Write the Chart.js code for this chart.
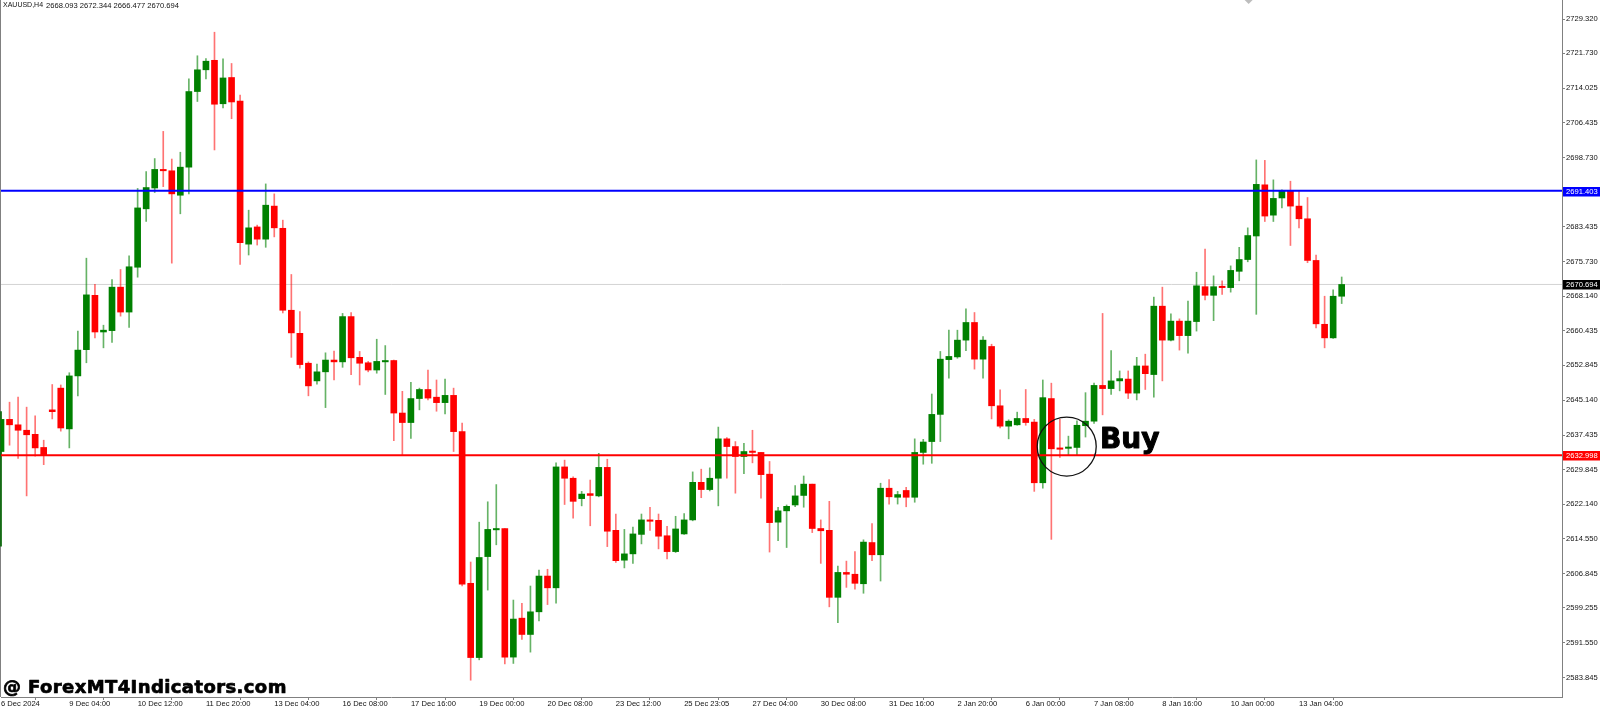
<!DOCTYPE html>
<html>
<head>
<meta charset="utf-8">
<style>html,body{margin:0;padding:0;background:#fff}canvas{display:block}</style>
<script src="https://cdn.jsdelivr.net/npm/chart.js@4"></script>
</head>
<body>
<canvas id="c" width="1600" height="710"></canvas>
<script>
const opens = [
2633.8,2640.9,2639.7,2638.5,2637.6,2634.7,2643.0,2647.8,2638.8,2650.5,
2656.3,2668.3,2660.2,2660.5,2670.1,2664.6,2674.5,2687.4,2692.0,2696.1,
2695.8,2690.4,2696.6,2713.3,2718.1,2720.2,2710.6,2716.4,2711.2,2679.6,
2683.4,2680.7,2688.0,2683.1,2665.0,2659.9,2653.3,2649.4,2651.4,2654.0,
2653.6,2663.6,2654.6,2653.4,2651.8,2653.6,2653.9,2642.3,2640.2,2645.5,
2647.5,2645.8,2644.6,2646.2,2638.2,2604.7,2588.3,2610.6,2616.5,2616.8,
2588.4,2597.0,2593.4,2598.4,2606.3,2603.7,2630.4,2627.9,2623.4,2624.5,
2624.0,2630.3,2616.4,2609.8,2611.2,2615.5,2618.7,2618.6,2615.2,2611.7,
2615.6,2618.7,2627.0,2625.4,2627.9,2636.6,2634.9,2632.7,2633.9,2633.6,
2628.8,2618.2,2620.7,2622.0,2624.1,2626.6,2616.8,2616.4,2601.6,2607.1,
2606.7,2604.6,2613.7,2611.0,2625.7,2623.7,2625.2,2623.7,2633.6,2636.0,
2642.0,2654.1,2654.7,2658.4,2662.3,2654.2,2657.0,2643.9,2639.4,2639.7,
2641.1,2640.3,2626.9,2645.5,2634.6,2634.5,2634.7,2639.5,2640.5,2648.4,
2647.7,2649.4,2649.8,2646.7,2652.7,2650.8,2665.9,2658.4,2662.6,2659.4,
2662.5,2670.2,2668.3,2670.3,2670.0,2673.6,2676.2,2681.4,2692.7,2686.0,
2689.8,2691.4,2688.0,2685.2,2676.0,2661.9,2658.9,2668.093];
const highs = [
2642.6,2644.7,2645.8,2643.6,2641.7,2636.3,2648.6,2648.5,2651.2,2660.4,
2676.5,2670.7,2661.7,2671.8,2674.0,2677.0,2691.9,2695.6,2698.5,2704.5,
2698.4,2699.9,2716.1,2721.2,2720.6,2726.4,2720.5,2719.5,2712.5,2687.1,
2683.8,2692.9,2690.7,2684.9,2672.9,2664.7,2653.6,2653.1,2655.6,2656.0,
2664.3,2664.5,2655.9,2653.7,2658.6,2657.2,2654.0,2647.1,2649.1,2647.8,
2651.8,2649.6,2649.8,2647.8,2640.1,2609.4,2618.2,2622.7,2626.5,2616.8,
2601.0,2600.3,2604.1,2607.6,2607.8,2631.3,2631.9,2628.2,2625.0,2627.5,
2633.4,2632.1,2620.0,2616.6,2617.1,2620.0,2621.5,2620.0,2617.3,2619.5,
2620.1,2629.3,2629.9,2630.2,2639.2,2636.9,2636.0,2635.6,2638.5,2633.6,
2631.6,2621.5,2622.0,2626.3,2628.4,2626.6,2618.7,2622.8,2608.5,2609.6,
2611.7,2614.3,2617.9,2626.8,2627.6,2625.0,2625.9,2636.6,2636.5,2646.5,
2655.9,2660.6,2660.6,2665.3,2664.5,2659.2,2657.5,2647.4,2640.8,2642.5,
2647.5,2640.9,2649.6,2648.9,2640.9,2637.2,2640.6,2646.8,2648.9,2664.3,
2656.1,2651.6,2651.6,2654.6,2655.3,2667.9,2670.1,2664.2,2663.1,2667.0,
2673.4,2678.5,2672.6,2671.5,2674.8,2678.9,2683.2,2698.2,2698.1,2693.8,
2691.6,2693.5,2691.4,2689.9,2677.2,2668.1,2669.5,2672.344];
const lows = [
2612.9,2635.2,2632.3,2624.0,2632.8,2630.9,2641.0,2638.3,2634.6,2646.1,
2653.4,2658.9,2656.7,2657.9,2663.7,2661.2,2672.3,2684.6,2691.0,2692.3,
2675.4,2686.3,2690.7,2711.1,2716.1,2700.4,2709.7,2707.3,2675.1,2677.2,
2679.4,2678.9,2681.2,2664.4,2654.6,2652.2,2646.1,2648.7,2643.5,2649.6,
2652.4,2650.8,2648.5,2651.4,2651.1,2646.4,2636.2,2633.0,2636.7,2643.0,
2645.2,2642.7,2642.1,2633.8,2604.1,2583.3,2587.8,2603.2,2613.2,2586.9,
2587.0,2592.3,2589.5,2596.4,2600.0,2600.3,2622.1,2619.1,2621.8,2617.4,
2623.8,2612.8,2609.3,2608.1,2609.1,2613.4,2616.4,2612.3,2610.1,2611.5,
2615.5,2618.5,2623.6,2625.1,2621.8,2627.9,2624.6,2628.9,2631.3,2623.5,
2611.6,2614.1,2612.6,2621.6,2621.5,2615.9,2609.1,2599.5,2596.0,2603.8,
2603.4,2602.5,2609.7,2605.2,2622.2,2622.2,2621.6,2622.6,2631.0,2631.2,
2636.0,2650.0,2654.4,2656.1,2652.0,2650.0,2641.0,2639.0,2636.6,2639.6,
2639.6,2625.0,2625.7,2614.4,2632.5,2632.9,2633.0,2637.0,2640.0,2641.9,
2646.4,2647.2,2645.5,2645.2,2647.5,2645.8,2649.4,2658.2,2656.2,2655.5,
2660.4,2667.3,2662.7,2668.5,2669.0,2671.5,2675.7,2664.1,2684.6,2684.6,
2687.6,2679.3,2683.2,2675.5,2661.1,2656.7,2658.8,2666.477];
const closes = [
2640.9,2639.7,2638.5,2637.5,2634.6,2632.9,2642.6,2639.0,2650.5,2656.2,
2668.4,2660.2,2660.6,2670.1,2664.6,2674.6,2687.6,2692.1,2696.1,2695.8,
2690.7,2696.6,2713.3,2718.1,2720.0,2710.5,2716.3,2711.0,2679.9,2683.2,
2680.7,2688.2,2683.2,2665.0,2660.0,2653.0,2648.3,2651.4,2654.0,2653.6,
2663.6,2654.5,2653.3,2651.8,2653.7,2653.9,2642.3,2640.2,2645.5,2647.5,
2645.6,2644.6,2646.2,2638.2,2604.5,2588.3,2610.4,2616.6,2616.8,2588.4,
2596.8,2593.4,2598.4,2606.3,2603.7,2630.4,2627.9,2622.8,2624.4,2624.1,
2630.3,2616.2,2609.7,2611.2,2615.6,2618.7,2618.4,2615.1,2611.7,2616.7,
2618.7,2627.0,2625.4,2627.9,2636.6,2634.9,2632.7,2633.8,2633.6,2628.7,
2618.1,2620.7,2621.7,2624.0,2626.6,2616.8,2616.3,2601.6,2607.1,2606.7,
2604.7,2613.8,2611.0,2625.7,2623.8,2624.3,2623.7,2633.6,2635.9,2642.0,
2654.2,2654.8,2658.4,2662.3,2654.2,2658.4,2643.9,2639.4,2640.5,2641.1,
2640.2,2626.9,2645.7,2634.4,2634.3,2634.8,2639.6,2640.5,2648.4,2647.7,
2649.4,2649.9,2646.7,2652.7,2651.0,2665.9,2658.4,2662.6,2659.4,2662.6,
2670.4,2668.3,2670.2,2670.0,2673.8,2676.2,2681.5,2692.8,2685.8,2689.7,
2691.4,2688.0,2685.2,2676.0,2662.0,2658.9,2668.1,2670.694];

const xTickIndex = [0,8,16,24,32,40,48,56,64,72,80,88,96,104,112,120,128,136,144,152];
const xTickLabels = ['6 Dec 2024','9 Dec 04:00','10 Dec 12:00','11 Dec 20:00','13 Dec 04:00','16 Dec 08:00','17 Dec 16:00','19 Dec 00:00','20 Dec 08:00','23 Dec 12:00','25 Dec 23:05','27 Dec 04:00','30 Dec 08:00','31 Dec 16:00','2 Jan 20:00','6 Jan 00:00','7 Jan 08:00','8 Jan 16:00','10 Jan 00:00','13 Jan 04:00'];
const yTickValues = [2729.320,2721.730,2714.025,2706.435,2698.730,2683.435,2675.730,2668.140,2660.435,2652.845,2645.140,2637.435,2629.845,2622.140,2614.550,2606.845,2599.255,2591.550,2583.845];
const resistance = 2691.403;
const support = 2632.998;
const bid = 2670.694;
const yMin = 2579.59, yMax = 2733.516, xMin = 0, xMax = 182.8;
const headerParts = ['XAUUSD,H4', '2668.093 2672.344 2666.477 2670.694'];
const watermark = '@ ForexMT4Indicators.com';
const buyText = 'Buy';
const AXIS_FONT = '"Liberation Sans"';
const TEXT_SIZE = 7.6;
const TEXT_COLOR = '#111';
const GREEN = '#008000', RED = '#ff0000';

const isUp = i => closes[i] >= opens[i];
const wicks = opens.map((_, i) => ({x: i, y: [lows[i], highs[i]]}));
const bodies = opens.map((_, i) => ({x: i, y: [opens[i], closes[i]]}));
const hLine = v => [{x: xMin, y: v}, {x: xMax, y: v}];

const overlay = {
  id: 'overlay',
  beforeDatasetsDraw(chart) {
    const {ctx, chartArea: a} = chart;
    ctx.save();
    ctx.fillStyle = '#808080';
    ctx.fillRect(0, 0, 1, a.bottom);
    ctx.restore();
  },
  afterDraw(chart) {
    const {ctx, scales: {x, y}, chartArea: a} = chart;
    ctx.save();
    // header
    ctx.fillStyle = TEXT_COLOR;
    ctx.font = '7px ' + AXIS_FONT;
    ctx.textAlign = 'left'; ctx.textBaseline = 'middle';
    ctx.fillText(headerParts[0], 3, 5.5);
    ctx.font = TEXT_SIZE + 'px ' + AXIS_FONT;
    ctx.fillText(headerParts[1], 46, 5.5);
    // small grey marker at the top edge
    const mx = x.getPixelForValue(146.1);
    ctx.fillStyle = '#bdbdbd';
    ctx.beginPath(); ctx.moveTo(mx - 4, 0); ctx.lineTo(mx + 4, 0); ctx.lineTo(mx, 4); ctx.closePath(); ctx.fill();
    // price tags
    [[resistance, '#0000ff', '#fff'], [support, '#ff0000', '#fff'], [bid, '#000', '#fff']].forEach(([v, bg, fg]) => {
      const py = Math.round(y.getPixelForValue(v));
      ctx.fillStyle = bg;
      ctx.fillRect(a.right + 1, py - 4, 37, 9.5);
      ctx.fillStyle = fg;
      ctx.font = TEXT_SIZE + 'px ' + AXIS_FONT;
      ctx.fillText(v.toFixed(3), a.right + 4, py + 1);
    });
    // circle around the entry candles
    ctx.strokeStyle = '#111'; ctx.lineWidth = 1.3;
    ctx.beginPath();
    ctx.arc(x.getPixelForValue(124.8), y.getPixelForValue(2634.9), 29.5, 0, Math.PI * 2);
    ctx.stroke();
    // Buy label
    ctx.fillStyle = '#000';
    ctx.strokeStyle = '#000';
    ctx.lineJoin = 'round';
    ctx.font = '900 28px "DejaVu Sans"';
    ctx.textBaseline = 'alphabetic';
    ctx.lineWidth = 1;
    ctx.fillText(buyText, 1100, 448);
    ctx.strokeText(buyText, 1100, 448);
    // watermark
    ctx.font = '900 18px "DejaVu Sans"';
    ctx.letterSpacing = '0.4px';
    ctx.lineWidth = 0.7;
    ctx.fillText(watermark, 3, 693);
    ctx.strokeText(watermark, 3, 693);
    ctx.restore();
  }
};

new Chart(document.getElementById('c'), {
  type: 'bar',
  data: {
    datasets: [
      {type: 'line', data: hLine(resistance), borderColor: '#0000ff', borderWidth: 2, pointRadius: 0, order: 0},
      {type: 'line', data: hLine(support), borderColor: '#ff0000', borderWidth: 2, pointRadius: 0, order: 0},
      {type: 'line', data: hLine(bid), borderColor: '#d3d3d3', borderWidth: 1, pointRadius: 0, order: 3},
      {data: bodies, grouped: false, barThickness: 6, order: 1,
       backgroundColor: c => isUp(c.dataIndex) ? GREEN : RED},
      {data: wicks, grouped: false, barThickness: 1, order: 2, clip: false,
       backgroundColor: c => c.dataIndex === 0 ? '#006400' : isUp(c.dataIndex) ? 'rgba(0,128,0,0.6)' : 'rgba(255,0,0,0.55)'}
    ]
  },
  plugins: [overlay],
  options: {
    responsive: false,
    animation: false,
    devicePixelRatio: 1,
    layout: {padding: {left: 1, right: 0, top: 0, bottom: 0}},
    plugins: {legend: {display: false}, tooltip: {enabled: false}},
    scales: {
      x: {
        type: 'linear', min: xMin, max: xMax, offset: false,
        afterBuildTicks: s => { s.ticks = xTickIndex.map(v => ({value: v})); },
        afterFit: s => { s.height = 13; s.paddingLeft = 0; s.paddingRight = 0; },
        grid: {drawOnChartArea: false, drawTicks: true, tickLength: 3, color: '#808080'},
        border: {color: '#808080', width: 1},
        ticks: {autoSkip: false, maxRotation: 0, align: 'start', padding: -1, color: TEXT_COLOR,
                font: {family: AXIS_FONT, size: TEXT_SIZE}, callback: (v, i) => xTickLabels[i]}
      },
      y: {
        type: 'linear', position: 'right', min: yMin, max: yMax,
        afterBuildTicks: s => { s.ticks = yTickValues.map(v => ({value: v})); },
        afterFit: s => { s.width = 38; s.paddingTop = 0; s.paddingBottom = 0; },
        grid: {drawOnChartArea: false, drawTicks: true, tickLength: 3, color: '#808080'},
        border: {color: '#808080', width: 1},
        ticks: {autoSkip: false, padding: 1, color: TEXT_COLOR,
                font: {family: AXIS_FONT, size: TEXT_SIZE}, callback: v => v.toFixed(3)}
      }
    }
  }
});
</script>
</body>
</html>
